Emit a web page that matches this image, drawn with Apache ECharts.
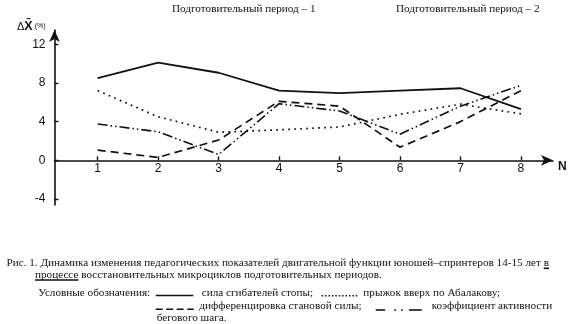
<!DOCTYPE html>
<html>
<head>
<meta charset="utf-8">
<script src="https://cdn.jsdelivr.net/npm/echarts@6/dist/echarts.min.js"></script>
<style>
  html, body { margin: 0; padding: 0; background: #fff; }
  #chart { width: 570px; height: 324px; }
</style>
</head>
<body>
<div id="chart"></div>
<script>
// Microcycle numbers along the N axis
const microcycles = [1, 2, 3, 4, 5, 6, 7, 8];
// ΔX̄ (%) for each pedagogical indicator
const flexorStrength = [8.5, 10.1, 9.05, 7.2, 6.95, 7.2, 7.45, 5.3];
const abalakovJump   = [7.2, 4.5, 2.9, 3.15, 3.45, 4.75, 5.8, 4.8];
const deadliftDiff   = [1.05, 0.3, 2.1, 6.1, 5.6, 1.35, 4.0, 7.2];
const strideActivity = [3.75, 2.95, 0.6, 5.85, 5.1, 2.7, 5.6, 7.75];
// Tick labels
const yTicks = [-4, 0, 4, 8, 12];
const xTicks = [1, 2, 3, 4, 5, 6, 7, 8];

const INK = '#111';
const serif = '"Liberation Serif", "DejaVu Serif", serif';
const sans = '"Liberation Sans", Arial, sans-serif';
const capSize = 11.2;

function pairs(values) {
  return microcycles.map((n, i) => [n, values[i]]);
}

// width of a caption fragment, used to place the underlines
const measureCtx = document.createElement('canvas').getContext('2d');
function textWidth(str) {
  measureCtx.font = capSize + 'px ' + serif;
  return measureCtx.measureText(str).width;
}

const caption1 = 'Рис. 1. Динамика изменения педагогических показателей двигательной функции юношей–спринтеров 14-15 лет ';
const caption1End = 'в';
const caption2Start = 'процессе';
const caption2 = 'процессе восстановительных микроциклов подготовительных периодов.';
const cap1X = 6.5, cap1Y = 263.3, cap2X = 35, cap2Y = 275;
const uLineX1 = cap1X + textWidth(caption1);
const uLineX2 = uLineX1 + textWidth(caption1End);
const uLine2X2 = cap2X + textWidth(caption2Start);

function caption(text, x, y) {
  return { type: 'text', x: x, y: y, style: { text: text, fontFamily: serif, fontSize: capSize,
    fill: INK, verticalAlign: 'middle' } };
}
function rule(x1, y, x2, dash) {
  const s = { stroke: INK, lineWidth: 1.6 };
  if (dash) s.lineDash = dash;
  return { type: 'line', shape: { x1: x1, y1: y, x2: x2, y2: y }, style: s };
}

const chart = echarts.init(document.getElementById('chart'), null, { renderer: 'canvas' });

const lineBase = { type: 'line', symbol: 'none', silent: true, animation: false };

chart.setOption({
  backgroundColor: '#fff',
  animation: false,
  grid: { left: 54.5, right: 17, top: 30, bottom: 119 },
  xAxis: {
    type: 'value',
    min: 0.286, max: 8.53,
    // the N axis sits on the zero level of ΔX̄
    offset: -44.7,
    axisLine: { onZero: false, symbol: ['none', 'arrow'], symbolSize: [8, 12],
      lineStyle: { color: INK, width: 1.6 } },
    axisTick: { show: true, inside: true, length: 4, customValues: xTicks, lineStyle: { color: INK, width: 1.4 } },
    axisLabel: { customValues: xTicks, margin: 2, color: INK, fontFamily: sans, fontSize: 12 },
    splitLine: { show: false }
  },
  yAxis: {
    type: 'value',
    min: -4.62, max: 13.47,
    axisLine: { show: true, onZero: false, symbol: ['none', 'arrow'], symbolSize: [8, 12],
      lineStyle: { color: INK, width: 1.6 } },
    axisTick: { show: true, inside: true, length: 4, customValues: yTicks, lineStyle: { color: INK, width: 1.4 } },
    axisLabel: { customValues: yTicks, margin: 9, color: INK, fontFamily: sans, fontSize: 12 },
    splitLine: { show: false }
  },
  series: [
    Object.assign({}, lineBase, { name: 'сила сгибателей стопы', data: pairs(flexorStrength),
      lineStyle: { color: INK, width: 1.8, type: 'solid' } }),
    Object.assign({}, lineBase, { name: 'прыжок вверх по Абалакову', data: pairs(abalakovJump),
      lineStyle: { color: INK, width: 1.7, type: [1.7, 4.3] } }),
    Object.assign({}, lineBase, { name: 'дифференцировка становой силы', data: pairs(deadliftDiff),
      lineStyle: { color: INK, width: 1.7, type: [8, 5] } }),
    Object.assign({}, lineBase, { name: 'коэффициент активности бегового шага', data: pairs(strideActivity),
      lineStyle: { color: INK, width: 1.6, type: [10, 3, 1.5, 3, 1.5, 3] } })
  ],
  graphic: [
    // axis captions
    { type: 'text', left: 17, top: 20, style: {
        text: '{d|Δ}{x|X̄}{p| (%)}',
        rich: {
          d: { fontFamily: sans, fontSize: 11, fill: INK },
          x: { fontFamily: sans, fontSize: 12.5, fontWeight: 'bold', fill: INK },
          p: { fontFamily: sans, fontSize: 7, fill: INK }
        } } },
    { type: 'text', x: 558, y: 167, style: { text: 'N', fontFamily: sans, fontSize: 12, fontWeight: 'bold',
        fill: INK, verticalAlign: 'middle' } },
    // period headers
    caption('Подготовительный период – 1', 172, 9),
    caption('Подготовительный период – 2', 396, 9),
    // figure caption
    caption(caption1 + caption1End, cap1X, cap1Y),
    rule(uLineX1, cap1Y + 5, uLineX2, null),
    caption(caption2, cap2X, cap2Y),
    rule(cap2X, cap2Y + 5, uLine2X2, null),
    // key
    caption('Условные обозначения:', 38.3, 292.7),
    rule(155.7, 295.5, 193.3, null),
    caption('сила сгибателей стопы;', 201.7, 292.7),
    rule(321.7, 295.8, 359, [1.5, 1.9]),
    caption('прыжок вверх по Абалакову;', 363.3, 292.7),
    rule(155.7, 309.3, 193.8, [7, 3.5]),
    caption('дифференцировка становой силы;', 199.3, 306),
    rule(375.7, 310, 385, null),
    rule(394.3, 310, 396, null),
    rule(401, 310, 402.7, null),
    rule(409, 310, 421.7, null),
    caption('коэффициент активности', 431.7, 306),
    caption('бегового шага.', 156.7, 318.3)
  ]
});
</script>
</body>
</html>
